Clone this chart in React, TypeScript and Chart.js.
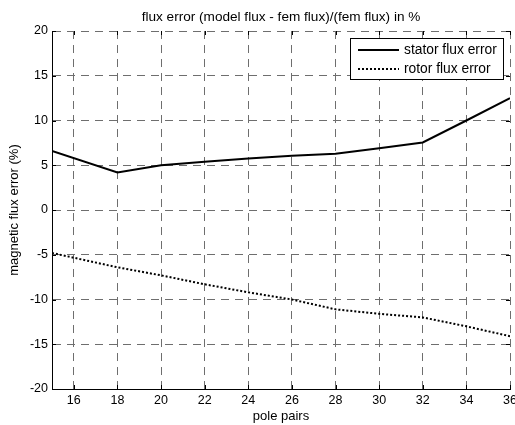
import React, { useEffect, useRef } from "react";
import { Chart, registerables } from "chart.js";

Chart.register(...registerables);

const polePairs = [15, 18, 20, 22, 24, 26, 28, 30, 32, 34, 36];
const statorError = [6.6, 4.2, 5.0, 5.4, 5.75, 6.05, 6.3, 6.9, 7.55, 10.0, 12.5];
const rotorError = [-4.8, -6.4, -7.3, -8.3, -9.2, -10.0, -11.1, -11.6, -12.0, -13.0, -14.1];
const xTicks = [16, 18, 20, 22, 24, 26, 28, 30, 32, 34, 36];
const seriesLabels = ["stator flux error", "rotor flux error"];
const titleText = "flux error (model flux - fem flux)/(fem flux) in %";
const xTitle = "pole pairs";
const yTitle = "magnetic flux error (%)";

const FONT = "'Liberation Sans', Arial, sans-serif";

const tickPlugin = {
  id: "inwardTicks",
  afterDraw(chart: any) {
    const { ctx, chartArea } = chart;
    const xs = chart.scales.x;
    const ys = chart.scales.y;
    const L = 4;
    ctx.save();
    ctx.strokeStyle = "#000";
    ctx.lineWidth = 1;
    ctx.setLineDash([]);
    ctx.beginPath();
    xs.ticks.forEach((t: any) => {
      const px = Math.round(xs.getPixelForValue(t.value)) + 0.5;
      ctx.moveTo(px, chartArea.bottom);
      ctx.lineTo(px, chartArea.bottom - L);
      ctx.moveTo(px, chartArea.top);
      ctx.lineTo(px, chartArea.top + L);
    });
    ys.ticks.forEach((t: any) => {
      const py = Math.round(ys.getPixelForValue(t.value)) + 0.5;
      ctx.moveTo(chartArea.left, py);
      ctx.lineTo(chartArea.left + L, py);
      ctx.moveTo(chartArea.right, py);
      ctx.lineTo(chartArea.right - L, py);
    });
    ctx.stroke();

    // legend box
    const bx = 350, by = 38, bw = 153, bh = 41;
    ctx.fillStyle = "#fff";
    ctx.fillRect(bx, by, bw, bh);
    ctx.strokeStyle = "#000";
    ctx.strokeRect(bx + 0.5, by + 0.5, bw, bh);
    const rows = [50, 69];
    chart.data.datasets.forEach((ds: any, i: number) => {
      const y = rows[i];
      ctx.beginPath();
      ctx.lineWidth = ds.borderWidth;
      ctx.strokeStyle = ds.borderColor;
      ctx.setLineDash(ds.borderDash || []);
      ctx.moveTo(358, y);
      ctx.lineTo(399, y);
      ctx.stroke();
      ctx.setLineDash([]);
      ctx.fillStyle = "#000";
      ctx.font = `13.8px ${FONT}`;
      ctx.textBaseline = "middle";
      ctx.textAlign = "left";
      ctx.fillText(ds.label, 404, y);
    });
    ctx.restore();
  },
};

export default function App() {
  const ref = useRef<HTMLCanvasElement | null>(null);
  useEffect(() => {
    if (!ref.current) return;
    const chart = new Chart(ref.current, {
      type: "line",
      data: {
        datasets: [
          {
            label: seriesLabels[0],
            data: polePairs.map((x, i) => ({ x, y: statorError[i] })),
            borderColor: "#000",
            borderWidth: 2,
            pointRadius: 0,
            tension: 0,
            fill: false,
          },
          {
            label: seriesLabels[1],
            data: polePairs.map((x, i) => ({ x, y: rotorError[i] })),
            borderColor: "#000",
            borderWidth: 2,
            borderDash: [2, 2],
            pointRadius: 0,
            tension: 0,
            fill: false,
          },
        ],
      },
      options: {
        animation: false,
        responsive: false,
        maintainAspectRatio: false,
        layout: { padding: { top: 0, right: 5, left: 0, bottom: 0 } },
        plugins: {
          legend: { display: false },
          tooltip: { enabled: false },
          title: {
            display: true,
            text: titleText,
            color: "#000",
            fullSize: false,
            font: { family: FONT, size: 13.6, weight: "normal", lineHeight: 1.2 },
            padding: { top: 9, bottom: 5.7 },
          },
        },
        scales: {
          x: {
            type: "linear",
            min: 15,
            max: 36,
            afterBuildTicks: (scale: any) => {
              scale.ticks = xTicks.map((v) => ({ value: v }));
            },
            afterFit: (scale: any) => {
              scale.height = 36;
              scale.paddingLeft = 0;
              scale.paddingRight = 0;
            },
            ticks: {
              color: "#000",
              font: { family: FONT, size: 12.5 },
              padding: 4,
              maxRotation: 0,
              autoSkip: false,
            },
            grid: { color: "#6e6e6e", lineWidth: 1, drawTicks: false },
            border: { display: true, color: "#000", width: 1, dash: [8, 6] },
            title: {
              display: true,
              text: xTitle,
              color: "#000",
              font: { family: FONT, size: 13 },
              padding: { top: 0, bottom: 1 },
            },
          },
          y: {
            type: "linear",
            min: -20,
            max: 20,
            afterFit: (scale: any) => {
              scale.width = 52;
            },
            ticks: {
              stepSize: 5,
              color: "#000",
              font: { family: FONT, size: 12.5 },
              padding: 4,
            },
            grid: { color: "#6e6e6e", lineWidth: 1, drawTicks: false },
            border: { display: true, color: "#000", width: 1, dash: [8, 6] },
            title: {
              display: true,
              text: yTitle,
              color: "#000",
              font: { family: FONT, size: 13 },
              padding: { top: 7, bottom: 0 },
            },
          },
        },
      },
      plugins: [tickPlugin],
    } as any);
    return () => chart.destroy();
  }, []);
  return (
    <div style={{ position: "absolute", left: 0, top: 0, width: 515, height: 425, background: "#fff" }}>
      <canvas ref={ref} width={515} height={425} style={{ display: "block" }} />
    </div>
  );
}
